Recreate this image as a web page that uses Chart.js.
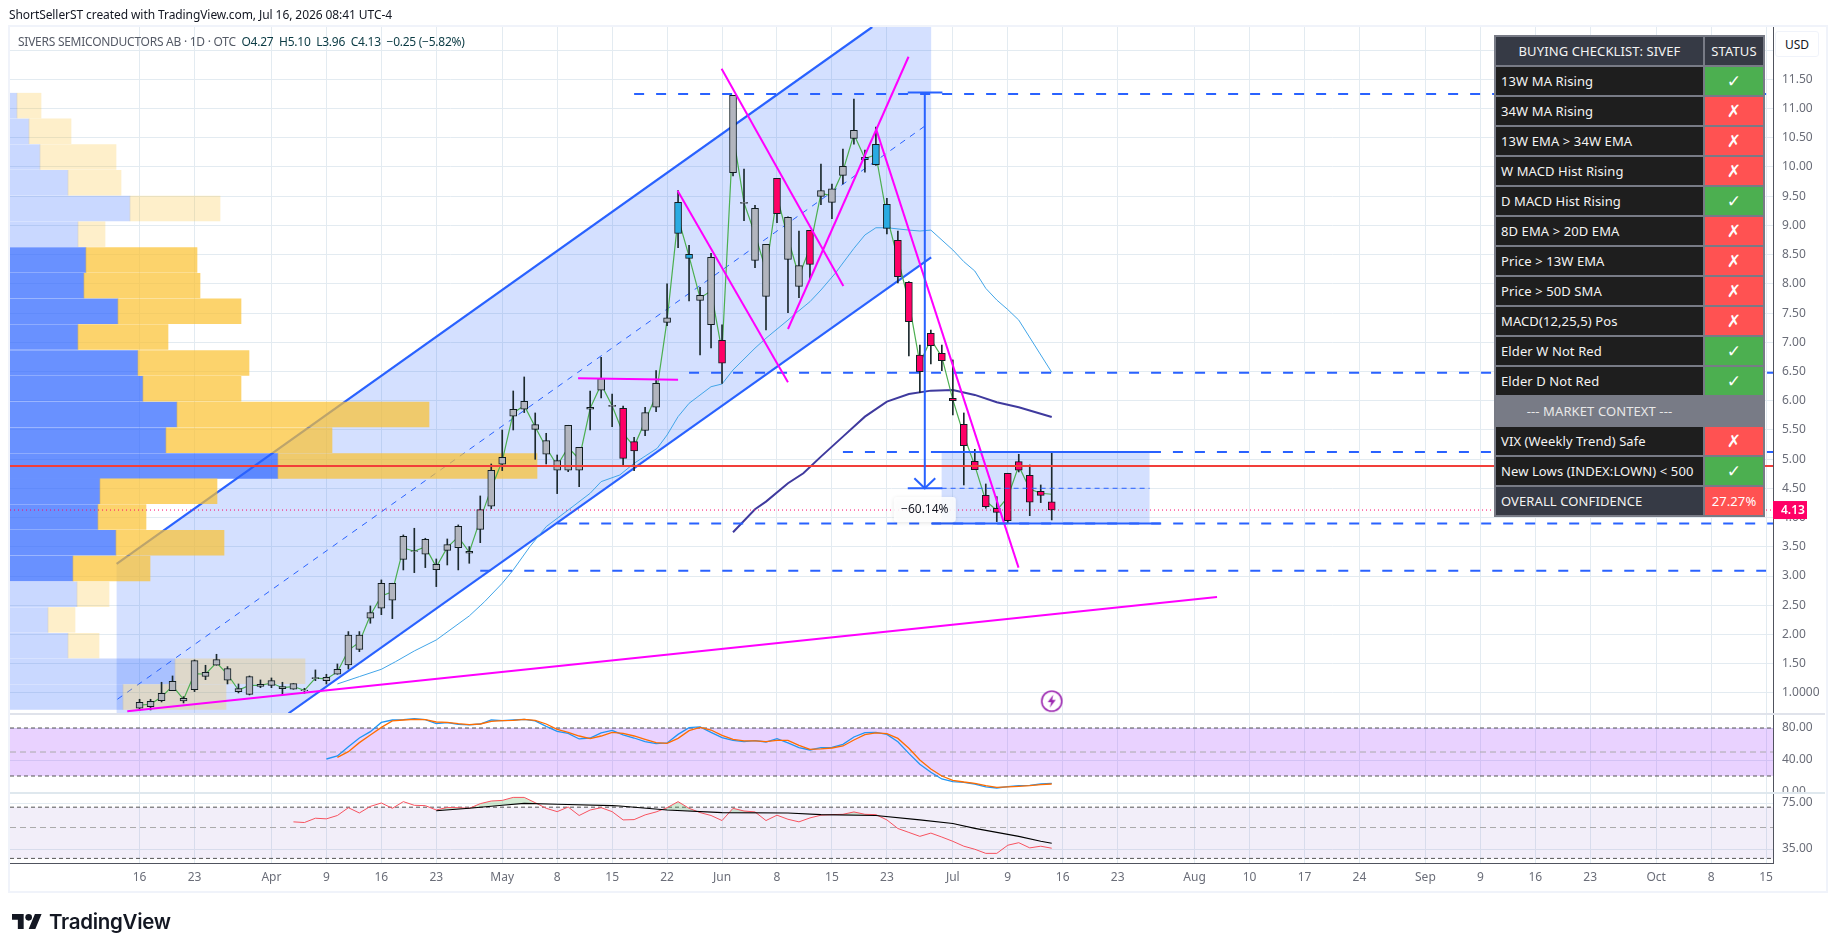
<!DOCTYPE html>
<html lang="en">
<head>
<meta charset="UTF-8" />
<title>SIVEF chart</title>
<script src="https://cdn.jsdelivr.net/npm/chart.js@4"></script>
<style>
  body { margin: 0; background: #fff; font-family: 'Noto Sans', sans-serif; }
  #wrap { position: relative; width: 1835px; height: 951px; overflow: hidden; }
  canvas { position: absolute; left: 0; top: 0; }
  #frame { position: absolute; left: 8px; top: 25px; width: 1816px; height: 864px; border: 2px solid #f0f3fa; }
  #credit { position: absolute; left: 9px; top: 6px; font-size: 12px; color: #131722; white-space: nowrap; letter-spacing: -0.08px; }
  #legend { position: absolute; left: 18px; top: 33px; font-size: 12px; color: #555a66; white-space: pre; letter-spacing: -0.26px; }
  #legend b { font-weight: 400; color: #0b3b44; }
  #usd { position: absolute; left: 1775px; top: 31px; width: 44px; height: 26px; line-height: 25px; text-align: center;
         font-size: 12px; color: #131722; background: #fff; border: 1px solid #f0f3fa; border-radius: 3px; box-sizing: border-box; }
  #brand { position: absolute; left: 12px; top: 909px; height: 24px; display: flex; align-items: center; }
  #brand span { font-family: Inter, sans-serif; font-weight: 600; font-size: 20.5px; color: #131722; margin-left: 7px; letter-spacing: -0.3px; }
  #check { position: absolute; left: 1494px; top: 35px; width: 271px; border-collapse: separate; border-spacing: 2px;
           background: #787b86; color: #f4f4f4; font-size: 13px; letter-spacing: 0.1px; table-layout: fixed; }
  #check td { height: 28px; padding: 0 0 0 5px; background: #1e1e1e; white-space: nowrap; box-sizing: border-box; }
  #check .hd { background: #363a45; text-align: center; padding: 0; }
  #check .ctx { background: #787b86; text-align: center; padding: 0; color: #e8e8e8; }
  #check .st { text-align: center; padding: 0; font-family: 'DejaVu Sans', sans-serif; font-size: 17px; font-weight: 700; color: #fff; }
  #check .ok { background: #4caf50; }
  #check .no { background: #ff5252; }
  #check .pc { background: #ff5252; text-align: center; padding: 0; color: #fff; }
</style>
</head>
<body>
<div id="wrap">
  <canvas id="chart" width="1835" height="951"></canvas>
  <div id="frame"></div>
  <div id="credit">ShortSellerST created with TradingView.com, Jul 16, 2026 08:41 UTC-4</div>
  <div id="legend">SIVERS SEMICONDUCTORS AB · 1D · OTC  <b>O4.27  H5.10  L3.96  C4.13  −0.25 (−5.82%)</b></div>
  <div id="usd">USD</div>
  <table id="check"></table>
  <div id="brand">
    <svg width="30" height="15" viewBox="0 4 36 18"><path d="M14 22H7V11H0V4h14v18ZM28 22h-8l7.5-18h8L28 22Z" fill="#131722"/><circle cx="20" cy="8" r="4" fill="#131722"/></svg>
    <span>TradingView</span>
  </div>
</div>
<script>
// candles, one per session, bar 0 = 16 Mar
const bodyTop = [.84,.858,.995,1.2,.909,1.553,1.354,1.57,1.417,1.074,1.28,1.148,1.211,1.109,1.16,1.05,1.263,1.268,1.405,1.99,1.99,2.375,2.877,2.877,3.68,3.43,3.63,3.202,3.538,3.852,3.424,4.137,4.81,5.032,5.854,5.99,5.591,5.318,4.975,5.58,5.204,5.888,6.378,5.922,5.87,5.3,5.797,6.298,7.42,9.394,8.505,7.803,8.453,7.034,11.225,9.394,9.292,8.676,9.805,9.138,8.311,8.915,9.594,9.628,10.01,10.626,10.164,10.387,9.36,8.744,8.026,6.783,7.154,6.812,6.042,5.597,4.964,4.382,4.16,4.759,4.958,4.724,4.451,4.27];
const bodyBottom = [.738,.766,.869,1.04,.863,1.057,1.285,1.474,1.217,1.023,.977,1.114,1.131,1.074,1.063,1.04,1.245,1.211,1.32,1.48,1.747,2.278,2.449,2.586,3.287,3.42,3.373,3.11,3.441,3.487,3.39,3.8,4.194,4.913,5.734,5.854,5.511,5.084,4.81,4.81,4.81,5.854,6.179,5.905,5.015,5.14,5.494,5.888,7.342,8.864,8.436,7.718,7.302,6.641,9.902,9.377,8.402,7.786,9.2,8.419,7.957,8.334,9.497,9.394,9.856,10.489,10.124,10.039,8.95,8.122,7.353,6.498,6.943,6.686,6.002,5.232,4.821,4.188,4.091,3.949,4.81,4.263,4.382,4.13];
const wickHigh = [.892,.892,1.183,1.291,.937,1.565,1.474,1.662,1.451,1.154,1.291,1.223,1.257,1.183,1.16,1.08,1.394,1.32,1.496,2.05,2.05,2.489,2.934,2.877,3.704,3.818,3.647,3.293,3.635,3.875,3.504,4.371,4.918,5.5,6.167,6.407,5.791,5.443,5.072,5.58,5.204,6.167,6.743,6.116,5.91,5.375,5.888,6.515,8.0,9.594,8.659,7.94,8.522,7.3,11.225,9.965,9.343,8.676,9.805,9.149,8.904,8.915,10.05,9.708,10.307,11.162,10.29,10.683,9.463,8.904,8.037,6.954,7.211,6.954,6.698,5.791,5.169,4.576,4.36,4.759,5.084,4.901,4.559,5.10];
const wickLow = [.698,.709,.846,1.04,.829,1.023,1.228,1.474,1.154,1.0,.966,1.09,1.09,.966,1.063,.995,1.21,1.154,1.32,1.41,1.707,2.193,2.34,2.272,3.105,3.059,3.145,2.82,3.19,3.105,3.219,3.572,4.154,4.805,5.5,5.797,4.998,4.918,4.411,4.787,4.53,5.5,6.047,5.557,4.9,4.804,5.403,5.814,7.285,8.619,7.706,6.783,6.903,6.298,9.845,9.08,8.277,7.21,9.046,7.507,7.763,8.077,9.354,9.115,9.708,10.392,9.913,10.027,8.853,8.014,6.766,6.139,6.629,6.515,5.757,4.559,4.821,4.16,3.932,3.915,4.781,4.034,4.257,3.96];
const bodyKind = "ggggggggggggggggggggggggggggggggggggggggggggppgggbbggpggggpggpggggbbbpppppppppppppppp";
const midLine = [.79,.81,.93,1.12,.89,1.33,1.32,1.52,1.32,1.05,1.13,1.13,1.17,1.09,1.11,1.045,1.254,1.24,1.36,1.73,1.87,2.33,2.66,2.73,3.48,3.425,3.5,3.156,3.49,3.67,3.407,3.97,4.5,4.97,5.79,5.92,5.55,5.2,4.89,5.2,5.0,5.87,6.28,5.913,5.44,5.22,5.65,6.09,7.38,9.13,8.47,7.76,7.88,6.84,10.56,9.385,8.85,8.23,9.5,8.78,8.13,8.62,9.545,9.51,9.93,10.56,10.144,10.21,9.155,8.43,7.69,6.64,7.05,6.75,6.02,5.41,4.89,4.285,4.125,4.35,4.885,4.49,4.417,4.4];

// moving averages
const maFastBar = [18,20,22,23.3,25,27,30,31.4,33,34,35.5,37,39,41,42,43.7,45,47.1,48,49,50,52,53,54,56,57,59,59.7,61,62,63.3,65,66,67,68,70,71,72,74,75,76,77,78,79,80,83];
const maFastVal = [1.154,1.28,1.405,1.536,1.719,1.907,2.318,2.563,2.877,3.105,3.5,3.846,4.13,4.417,4.616,4.73,4.93,5.186,5.414,5.728,5.956,6.24,6.287,6.527,6.9,7.07,7.38,7.495,7.695,7.895,8.18,8.607,8.836,8.96,8.96,8.92,8.904,8.92,8.58,8.38,8.22,7.923,7.723,7.56,7.38,6.487];
const maSlowBar = [54,56,57,59,60.4,62,64,66,68,70,72,74,76,78,80,83];
const maSlowVal = [3.75,4.143,4.274,4.588,4.759,5.044,5.386,5.728,5.985,6.116,6.173,6.184,6.1,5.973,5.888,5.722];

// volume profile rows, top to bottom
const vpPrice = [11.05,10.61,10.17,9.73,9.29,8.85,8.41,7.97,7.53,7.09,6.645,6.205,5.765,5.325,4.885,4.45,4.01,3.57,3.13,2.69,2.25,1.81,1.37,.93];
const vpUp = [7,19,30,58,120,68,76,74,108,68,128,133,167,156,268,90,88,106,63,67,38,58,165,113];
const vpEnd = [31,61,106,111,210,95,187,190,231,158,239,231,419,322,527,207,136,214,140,99,65,89,295,216];
const vpInValueArea = [0,0,0,0,0,0,1,1,1,1,1,1,1,1,1,1,1,1,1,0,0,0,0,0];

// stochastic, bars 17/18 to 83
const stochK = [41.25,45,56.7,67.5,75.4,87,90,90.4,91.7,90.4,85.4,86.7,84.6,83.8,85,90,89.2,90,90.8,88.8,82,75.8,73.3,66.3,67.5,73.8,77,71.3,67.5,62.9,60.4,61.3,72,80.4,81.3,74.6,67.9,64.6,62.9,64.2,62.5,66.7,61.3,55.4,52.5,55.4,55.8,59.6,68.8,74.2,74.6,72,62.9,48.3,34.6,24.6,16.3,12.9,12,10,6.3,5,6.7,7.9,8.3,10,10.8];
const stochD = [43.3,50.4,61.7,71.3,80.8,88.8,90,90.8,90.4,87.5,87,85.4,84.2,85,88.3,89.2,89.6,90.8,89.6,85,78.3,74.6,70,66.7,70,74.6,73.3,70,65.8,61.7,60.8,67,76.7,80.8,77.5,70.8,65.8,63.8,63.8,62.9,64.6,64.6,58.3,53.3,53.8,55,57.5,65,71.7,73.8,72.9,67,54.6,40,28.8,20,14.6,12.5,10.8,7.9,5.8,6.3,7.1,7.9,9.2,10];

// rsi, bars 14 to 83
const rsiVal = [54.9,54.3,58.3,57.7,61,69.4,63.6,70.9,75,68.7,76.7,72.2,71.8,66.8,69.7,69.4,68.7,74.2,77.5,78.3,82.3,82.3,75.4,68.7,65,70.2,61,66.8,69.4,65,56.7,57,61.6,64.7,69.4,76.7,68.7,64,61,56.1,68.7,65.7,64.7,56.1,61.3,57.3,54.9,58.6,61.3,61.9,62.2,64.7,62.2,61.9,56.7,49.2,46.1,43.2,45.6,42.7,39.8,36.7,34.9,32.6,32.6,37.3,38.9,35.7,36.7,35.5];
const rsiMaBar = [27,30,33,35,38,43,43.7,48,53,59,62,67,71,74,76,80,82,83];
const rsiMaVal = [66,68.7,72.2,74.6,73.4,71.8,71.4,66.8,64,63.6,61.9,61,56.7,53.4,49.3,43.2,39.8,38.5];

// axes
const timeTickBar = [0,5,12,17,22,27,33,38,43,48,53,58,63,68,74,79,84,89,96,101,106,111,117,122,127,132,138,143,148];
const timeTickLabel = ["16","23","Apr","9","16","23","May","8","15","22","Jun","8","15","23","Jul","9","16","23","Aug","10","17","24","Sep","9","16","23","Oct","8","15"];
const priceTicks = [12,11.5,11,10.5,10,9.5,9,8.5,8,7.5,7,6.5,6,5.5,5,4.5,4,3.5,3,2.5,2,1.5,1];
const stochTicks = [80,40,0];
const rsiTicks = [75,35];
const barMin = -11.79, barMax = 148.63;
const priceMin = 0.64, priceMax = 12.395;
const stochMin = -1.25, stochMax = 97.5;
const rsiMin = 27.8, rsiMax = 88.5;

// drawings, in bar / price units
const channelFillBar = [-2.09,66.67,72.03,72.03,13.56,-2.09];
const channelFillVal = [3.207,12.395,12.395,8.453,.64,.64];
const channelUpper = [[-2.09,3.207],[66.67,12.395]];
const channelLower = [[13.56,.652],[72.03,8.453]];
const channelMiddle = [[-2.02,.892],[71.8,10.746]];
const magentaLines = [
  [[48.96,9.594],[59,6.316]],
  [[52.96,11.68],[64.04,7.963]],
  [[59,7.228],[69.97,11.886]],
  [[67.03,10.643],[79.98,3.145]],
  [[39.9,6.384],[49,6.361]],
  [[-1.12,.687],[98.04,2.643]]
];
const levelVal = [11.248,6.481,5.124,3.898,3.093];
const levelFrom = [45,50,64,38,31];
const levelTo = [148,barMax,barMax,barMax,148];
const redLevel = 4.884;
const lastPrice = 4.13;
const boxBar = [72.98,91.9], boxTop = 5.124, boxBottom = 3.898, boxMid = 4.502;
const boxEdgeBar = [72.1,92.9];
const rangeBar = 71.45, rangeTop = 11.276, rangeBottom = 4.502;
const rangeCapBar = [69.9,73.05];
const arrowBar = [70.5,71.45,72.4], arrowVal = [4.673,4.502,4.673];
const eventBar = [83], eventVal = [.86];

// checklist table
const checkItems = ["13W MA Rising","34W MA Rising","13W EMA > 34W EMA","W MACD Hist Rising","D MACD Hist Rising","8D EMA > 20D EMA","Price > 13W EMA","Price > 50D SMA","MACD(12,25,5) Pos","Elder W Not Red","Elder D Not Red"];
const checkState = [1,0,0,0,1,0,0,0,0,1,1];
const contextItems = ["VIX (Weekly Trend) Safe","New Lows (INDEX:LOWN) < 500"];
const contextState = [0,1];

function cell(txt, cls, extra) {
  return '<td class="' + cls + '"' + (extra || '') + '>' + txt.replace(/</g, '&lt;').replace(/>/g, '&gt;') + '</td>';
}
function stateCell(s) { return s ? cell('✓', 'st ok') : cell('✗', 'st no'); }
let rows = '<colgroup><col style="width:207px"><col style="width:58px"></colgroup>';
rows += '<tr>' + cell('BUYING CHECKLIST: SIVEF', 'hd') + cell('STATUS', 'hd') + '</tr>';
checkItems.forEach((t, i) => { rows += '<tr>' + cell(t, '') + stateCell(checkState[i]) + '</tr>'; });
rows += '<tr>' + cell('--- MARKET CONTEXT ---', 'ctx') + cell('', 'ctx') + '</tr>';
contextItems.forEach((t, i) => { rows += '<tr>' + cell(t, '') + stateCell(contextState[i]) + '</tr>'; });
rows += '<tr>' + cell('OVERALL CONFIDENCE', '', ' style="background:#363a45"') + cell('27.27%', 'pc') + '</tr>';
document.getElementById('check').innerHTML = rows;

const blue = '#2962ff', magenta = '#ff00ff';
const kindColor = { g: '#b2b5be', b: '#29abe2', p: '#ff0066' };

function ln(pts, color, width, extra) {
  return Object.assign({ type: 'line', xAxisID: 'x', yAxisID: 'y', data: pts.map(p => ({ x: p[0], y: p[1] })),
    borderColor: color, borderWidth: width, pointRadius: 0, tension: 0, fill: false }, extra || {});
}
const zip = (a, b) => a.map((v, i) => [v, b[i]]);
const seq = (start, vals) => vals.map((v, i) => [start + i, v]);

// the little bolt marker
const boltIcon = document.createElement('canvas');
boltIcon.width = 24; boltIcon.height = 24;
(function () {
  const c = boltIcon.getContext('2d');
  c.fillStyle = '#fff'; c.strokeStyle = '#9c27b0'; c.lineWidth = 1.6;
  c.beginPath(); c.arc(12, 12, 10, 0, Math.PI * 2); c.fill(); c.stroke();
  c.fillStyle = '#9c27b0';
  c.beginPath(); c.moveTo(13.5, 5.5); c.lineTo(8, 13); c.lineTo(11.5, 13); c.lineTo(10, 18.5); c.lineTo(16, 10.8); c.lineTo(12.4, 10.8); c.closePath(); c.fill();
})();

const datasets = [
  // price pane, back to front
  ln(zip(channelFillBar, channelFillVal), 'transparent', 0, { label: 'channel fill', fill: 'shape', backgroundColor: 'rgba(41,98,255,0.2)' }),
  ln([[boxBar[0], boxTop], [boxBar[1], boxTop], [boxBar[1], boxBottom], [boxBar[0], boxBottom]], 'transparent', 0, { label: 'range box', fill: 'shape', backgroundColor: 'rgba(41,98,255,0.2)' }),
  ln(channelUpper, blue, 2.2, { label: 'channel upper' }),
  ln(channelLower, blue, 2.2, { label: 'channel lower' }),
  ln(channelMiddle, blue, 1, { label: 'channel middle', borderDash: [6, 6] }),
  { type: 'bar', indexAxis: 'y', xAxisID: 'xVol', yAxisID: 'y', label: 'vp up', grouped: false, barThickness: 24.8, borderWidth: 0,
    data: vpPrice.map((p, i) => ({ x: [0, vpUp[i]], y: p })),
    backgroundColor: vpInValueArea.map(s => s ? 'rgba(41,98,255,0.7)' : 'rgba(41,98,255,0.25)') },
  { type: 'bar', indexAxis: 'y', xAxisID: 'xVol', yAxisID: 'y', label: 'vp down', grouped: false, barThickness: 24.8, borderWidth: 0,
    data: vpPrice.map((p, i) => ({ x: [vpUp[i], vpEnd[i]], y: p })),
    backgroundColor: vpInValueArea.map(s => s ? 'rgba(251,192,45,0.7)' : 'rgba(251,192,45,0.25)') },
  ln(zip(maFastBar, maFastVal), '#42a5e8', 1, { label: 'MA fast' }),
  ln(zip(maSlowBar, maSlowVal), '#3f3a9e', 2, { label: 'MA slow' }),
  ln(seq(0, midLine), '#4caf50', 1.2, { label: 'mid' }),
  { type: 'bar', xAxisID: 'x', yAxisID: 'y', label: 'wick', grouped: false, barThickness: 1, borderWidth: 0, backgroundColor: '#1c2a2e',
    data: wickHigh.map((h, i) => ({ x: i, y: [wickLow[i], h] })) },
  { type: 'bar', xAxisID: 'x', yAxisID: 'y', label: 'body', grouped: false, barThickness: 7, borderWidth: 1, borderColor: '#101c20', borderSkipped: false,
    data: bodyTop.map((t, i) => ({ x: i, y: [bodyBottom[i], t] })),
    backgroundColor: bodyTop.map((t, i) => kindColor[bodyKind[i]]) },
  ...levelVal.map((v, i) => ln([[levelFrom[i], v], [levelTo[i], v]], blue, 2, { label: 'level', borderDash: [10, 12] })),
  ln([[barMin, redLevel], [barMax, redLevel]], '#f23f3a', 2, { label: 'red level' }),
  ln([[barMin, lastPrice], [barMax, lastPrice]], '#ff0066', 1, { label: 'last', borderDash: [1, 3] }),
  ...magentaLines.map(s => ln(s, magenta, 2, { label: 'trend' })),
  ln([[boxEdgeBar[0], boxTop], [boxEdgeBar[1], boxTop]], blue, 2, { label: 'box top' }),
  ln([[boxEdgeBar[0], boxBottom], [boxEdgeBar[1], boxBottom]], blue, 2, { label: 'box bottom' }),
  ln([[boxBar[0], boxMid], [boxBar[1], boxMid]], blue, 1, { label: 'box mid', borderDash: [5, 4] }),
  ln([[rangeBar, rangeTop], [rangeBar, rangeBottom]], blue, 2, { label: 'range stem' }),
  ln([[rangeCapBar[0], rangeTop], [rangeCapBar[1], rangeTop]], blue, 2, { label: 'range cap' }),
  ln([[rangeCapBar[0], rangeBottom], [rangeCapBar[1], rangeBottom]], blue, 2, { label: 'range foot' }),
  ln(zip(arrowBar, arrowVal), blue, 2, { label: 'arrow' }),
  ln(zip(eventBar, eventVal), 'transparent', 0, { label: 'event', showLine: false, pointRadius: 10, pointStyle: boltIcon }),
  // stochastic pane
  ln([[barMin, 80], [barMax, 80], [barMax, 20], [barMin, 20]], 'transparent', 0, { yAxisID: 'y2', label: 'stoch band', fill: 'shape', backgroundColor: 'rgba(155,50,255,0.22)' }),
  ln([[barMin, 80], [barMax, 80]], '#555', 1, { yAxisID: 'y2', label: '80', borderDash: [4, 3] }),
  ln([[barMin, 50], [barMax, 50]], '#aaa', 1, { yAxisID: 'y2', label: '50', borderDash: [6, 4] }),
  ln([[barMin, 20], [barMax, 20]], '#555', 1, { yAxisID: 'y2', label: '20', borderDash: [4, 3] }),
  ln(seq(17, stochK), '#2196f3', 1.3, { yAxisID: 'y2', label: '%K' }),
  ln(seq(18, stochD), '#ff6d00', 1.3, { yAxisID: 'y2', label: '%D' }),
  // rsi pane
  ln([[barMin, 70], [barMax, 70], [barMax, 30], [barMin, 30]], 'transparent', 0, { yAxisID: 'y3', label: 'rsi band', fill: 'shape', backgroundColor: 'rgba(126,87,194,0.1)' }),
  ln([[barMin, 70], [barMax, 70]], '#555', 1, { yAxisID: 'y3', label: '70', borderDash: [4, 3] }),
  ln([[barMin, 50], [barMax, 50]], '#aaa', 1, { yAxisID: 'y3', label: '50', borderDash: [6, 4] }),
  ln([[barMin, 30], [barMax, 30]], '#555', 1, { yAxisID: 'y3', label: '30', borderDash: [4, 3] }),
  ln(seq(14, rsiVal), '#f7525f', 1, { yAxisID: 'y3', label: 'RSI',
    fill: { target: '+1', above: 'rgba(76,175,80,0.25)', below: 'transparent' } }),
  ln(zip(rsiMaBar, rsiMaVal), '#000', 1.1, { yAxisID: 'y3', label: 'RSI MA' })
];
datasets.forEach((d, i) => { d.order = -i; });

const axisFont = { family: "'Noto Sans', sans-serif", size: 12 };
const axisGrey = '#6a6d78', gridCol = '#e3ebf1', axisLine = '#50535e';

function paneAxis(min, max, ticks, weight, fmt, extraTicks, type) {
  return {
    type: type || 'linear', position: 'right', stack: 'panes', stackWeight: weight, min, max, offset: false,
    afterBuildTicks: s => { s.ticks = ticks.map(v => ({ value: v })); },
    afterFit: s => { s.width = 52; },
    grid: { color: gridCol, drawTicks: false, offset: false },
    border: { color: axisLine },
    ticks: Object.assign({ color: axisGrey, font: axisFont, padding: 9, callback: fmt, autoSkip: false }, extraTicks || {})
  };
}

const panePlugin = {
  id: 'paneChrome',
  beforeDatasetsDraw(chart) {
    const { ctx, scales } = chart;
    // the stoch pane cuts its own bottom label off
    ctx.save();
    ctx.fillStyle = '#fff';
    ctx.fillRect(scales.y3.left + 1, scales.y3.top, scales.y3.width - 1, 9);
    ctx.restore();
  },
  afterDatasetsDraw(chart) {
    const { ctx, scales, chartArea } = chart;
    ctx.save();
    ctx.fillStyle = '#e0e3eb';
    ctx.fillRect(chartArea.left, scales.y2.top - 1, scales.y.right - chartArea.left, 2);
    ctx.fillStyle = '#dfe8ee';
    ctx.fillRect(chartArea.left, scales.y3.top - 1, scales.y.right - chartArea.left, 2);
    // measure label
    const cx = scales.x.getPixelForValue(rangeBar), cy = scales.y.getPixelForValue(lastPrice) - 1;
    ctx.shadowColor = 'rgba(0,0,0,0.12)'; ctx.shadowBlur = 4; ctx.shadowOffsetY = 1;
    ctx.fillStyle = 'rgba(255,255,255,0.88)';
    ctx.beginPath(); ctx.roundRect(cx - 31, cy - 12, 62, 25, 3); ctx.fill();
    ctx.shadowColor = 'transparent';
    ctx.fillStyle = '#131722';
    ctx.font = "12px 'Noto Sans', sans-serif";
    ctx.textAlign = 'center'; ctx.textBaseline = 'middle';
    ctx.fillText('−60.14%', cx, cy + 1);
    ctx.restore();
  },
  afterDraw(chart) {
    const { ctx, scales } = chart;
    const py = scales.y.getPixelForValue(lastPrice);
    ctx.save();
    ctx.fillStyle = '#ff0066';
    ctx.fillRect(scales.y.left, py - 9, 34, 18);
    ctx.fillStyle = '#fff';
    ctx.font = "600 12px 'Noto Sans', sans-serif";
    ctx.textAlign = 'left'; ctx.textBaseline = 'middle';
    ctx.fillText(lastPrice.toFixed(2), scales.y.left + 8, py + 1);
    ctx.restore();
  }
};

new Chart(document.getElementById('chart'), {
  type: 'line',
  data: { datasets },
  plugins: [panePlugin],
  options: {
    responsive: false,
    animation: false,
    devicePixelRatio: 1,
    layout: { padding: { left: 10, top: 27, right: 10, bottom: 61 } },
    plugins: { legend: { display: false }, tooltip: { enabled: false } },
    scales: {
      x: {
        type: 'linear', position: 'bottom', min: barMin, max: barMax, offset: false,
        afterBuildTicks: s => { s.ticks = timeTickBar.map(v => ({ value: v })); },
        afterFit: s => { s.height = 27; },
        grid: { color: gridCol, drawTicks: false, offset: false },
        border: { color: axisLine },
        ticks: { color: axisGrey, font: axisFont, padding: 7, maxRotation: 0, autoSkip: false,
          callback: v => timeTickLabel[timeTickBar.indexOf(v)] }
      },
      xVol: { type: 'linear', axis: 'x', display: false, min: 0, max: 1763, offset: false, grid: { offset: false } },
      y: paneAxis(priceMin, priceMax, priceTicks, 687, v => v === 1 ? '1.0000' : v.toFixed(2)),
      y2: paneAxis(stochMin, stochMax, stochTicks, 79, v => v.toFixed(2)),
      y3: paneAxis(rsiMin, rsiMax, rsiTicks, 70, v => v.toFixed(2), { z: 1 }, 'logarithmic')
    }
  }
});
</script>
</body>
</html>
